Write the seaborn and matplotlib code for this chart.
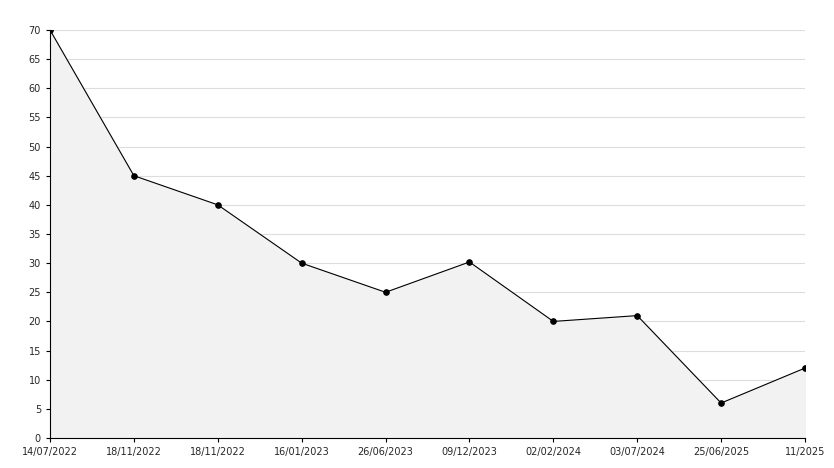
import matplotlib
matplotlib.use("Agg")
import matplotlib.pyplot as plt
import seaborn as sns
import pandas as pd

dates = ["14/07/2022","18/11/2022","18/11/2022","16/01/2023","26/06/2023","09/12/2023","02/02/2024","03/07/2024","25/06/2025","11/2025"]
values = [70,45,40,30,25,30.2,20,21,6,12]
yticks = list(range(0,75,5))

sns.set_style("white")
plt.rcParams['font.family'] = ['DejaVu Sans']
fig = plt.figure(figsize=(8.34,4.68), dpi=100)
ax = fig.add_axes([50/834, 30/468, 755/834, 408/468])
df = pd.DataFrame({"x": range(len(values)), "y": values})
ax.fill_between(df.x, df.y, 0, color="#f2f2f2", zorder=1)
sns.lineplot(data=df, x="x", y="y", ax=ax, color="black", lw=0.8, marker="o", markersize=4,
             markeredgecolor="black", zorder=3)
ax.set_xlim(0, len(values)-1)
ax.set_ylim(0, 70)
ax.set_yticks(yticks)
ax.set_xticks(range(len(values)))
ax.set_xticklabels(dates)
ax.tick_params(labelsize=7, length=3, direction="out", color="black", left=True, bottom=True)
ax.grid(axis="y", color="#dddddd", lw=0.8, zorder=0)
ax.set_axisbelow(True)
for s in ["top","right"]:
    ax.spines[s].set_visible(False)
for s in ["left","bottom"]:
    ax.spines[s].set_color("black"); ax.spines[s].set_linewidth(0.8)
ax.set_xlabel(""); ax.set_ylabel("")
fig.savefig("out.png", dpi=100)
